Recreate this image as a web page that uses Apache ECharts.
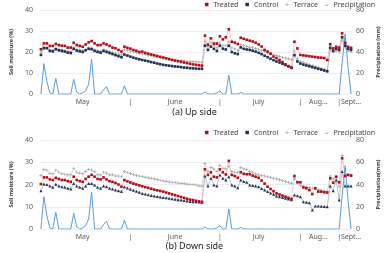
<!DOCTYPE html>
<html><head><meta charset="utf-8">
<script src="https://cdn.jsdelivr.net/npm/echarts@6/dist/echarts.min.js"></script>
<style>html,body{margin:0;padding:0;background:#fff}#c{width:389px;height:253px}</style>
</head><body><div id="c"></div>
<script>
// ---- data ----
const nPoints = 105;
const tickIndex  = [14, 30, 45, 60, 73, 87, 93, 100, 104];
const tickLabels = ['May', '|', 'June', '|', 'July', '|', 'Aug...', '|', 'Sept...'];
const categories = Array.from({length: nPoints}, (_, i) => String(i));

const precipitation = [
  0,29,12,1,0,15,0,0,0,0,
  0,14,2,0,1,3,9,33,0,0,
  0,4,7,0,0,0,0,0,8,0,
  0,0,0,0,0,0,0,0,0,0,
  0,0,0,0,0,0,0,0,0,0,
  0,0,0,0,0,2,0,0,0,1,
  3,0,0,18,0,0,0,1.5,0,0,
  0,0,0,0,0,0,0,0,0,0,
  0,0,0,0,0,0,0,0,0,0,
  0,0,0,0,0,0,0,0,0,0,
  0,30,57,25,0
];

const upTreated = [
  21.3,24.1,24.1,22.9,22.9,23.8,23.3,23.0,22.9,22.1,
  22.1,24.4,23.3,22.9,22.5,23.6,24.6,25.2,24.1,23.3,
  23.3,24.1,23.6,22.9,22.1,21.8,21.0,20.2,22.5,22.0,
  21.6,21.0,20.6,20.0,20.2,19.6,19.2,18.8,18.5,18.1,
  17.7,17.4,17.0,16.6,16.2,15.9,15.6,15.3,15.0,14.7,
  14.4,14.1,13.9,13.7,13.5,27.8,23.5,26.5,24.0,24.0,
  27.5,26.0,27.0,30.8,24.9,24.5,23.8,26.8,26.3,25.8,
  25.4,25.0,24.4,23.6,22.6,21.0,20.2,19.2,17.8,17.1,
  16.2,15.2,14.1,13.3,12.4,24.9,21.7,18.6,18.4,18.2,
  18.0,17.8,17.6,17.4,17.3,17.1,16.2,23.7,21.7,22.5,
  22.1,28.9,24.4,22.5,22.0
];
const upControl = [
  18.6,21.8,21.8,20.5,20.3,21.3,20.8,20.5,20.2,19.7,
  19.5,21.5,20.7,20.3,20.0,20.8,21.5,21.3,20.5,20.0,
  19.7,20.5,20.0,19.5,19.0,18.5,18.0,17.5,18.8,18.3,
  17.8,17.3,16.9,16.5,16.2,15.9,15.6,15.2,14.9,14.5,
  14.2,13.9,13.7,13.5,13.3,13.1,13.0,12.8,12.6,12.5,
  12.3,12.2,12.1,12.0,12.0,23.0,21.0,22.6,21.5,20.5,
  23.0,21.6,21.2,23.0,20.0,19.4,19.0,22.2,21.5,21.2,
  21.0,20.6,20.2,19.6,19.0,18.2,17.5,16.8,16.1,15.5,
  15.0,14.4,13.8,13.2,12.6,18.5,15.5,14.5,14.0,13.6,
  13.2,12.8,12.4,12.0,11.6,11.2,10.8,22.0,20.5,21.5,
  21.0,27.0,23.0,21.5,21.0
];
const upTerrace = [
  20.0,22.5,22.2,21.0,20.8,21.8,21.3,21.0,20.7,20.3,
  20.0,22.0,21.3,21.0,20.7,21.3,22.0,22.0,21.2,20.7,
  20.3,21.0,20.6,20.2,19.8,19.4,19.0,18.6,21.2,20.8,
  20.4,20.0,19.7,19.4,19.1,18.8,18.5,18.2,17.9,17.6,
  17.3,17.0,16.8,16.6,16.4,16.2,16.0,15.9,15.8,15.6,
  15.5,15.4,15.3,15.2,15.1,24.8,22.5,24.5,23.0,22.0,
  24.5,23.2,23.0,24.8,22.0,21.5,20.8,23.5,23.0,22.7,
  22.3,22.0,21.6,21.2,20.8,20.4,19.6,19.2,18.7,18.3,
  17.9,17.5,17.1,16.7,16.3,20.5,17.0,15.5,15.0,14.5,
  14.0,13.5,13.0,12.6,12.2,11.8,11.2,21.0,20.0,20.5,
  20.0,25.7,22.0,20.5,20.0
];
const downTreated = [
  20.2,23.2,23.2,22.3,22.0,23.0,22.5,22.0,22.0,21.5,
  21.2,23.5,22.0,21.5,21.2,22.5,23.5,24.3,23.5,22.5,
  22.3,23.2,22.3,21.5,21.2,20.7,20.0,19.0,22.0,21.4,
  20.9,20.4,20.0,19.6,19.2,18.8,18.5,18.1,17.7,17.4,
  17.1,16.8,16.4,16.0,15.6,15.2,14.8,14.4,14.0,13.6,
  13.2,13.0,12.7,12.4,12.2,26.8,24.3,25.5,23.5,23.2,
  26.8,25.5,24.5,30.6,24.3,23.8,23.0,25.5,24.8,24.6,
  24.6,24.0,23.5,23.0,21.8,20.4,19.0,18.0,17.0,16.0,
  15.5,15.0,14.5,14.0,13.5,23.8,21.0,21.0,18.7,18.3,
  17.5,15.7,18.3,16.8,16.8,16.5,16.4,22.8,20.8,23.5,
  21.0,31.8,23.8,24.3,24.0
];
const downControl = [
  17.2,20.2,20.0,19.3,18.8,20.1,19.3,19.0,18.8,18.3,
  18.0,20.5,19.3,18.8,18.3,19.3,20.5,20.5,19.8,18.8,
  18.3,19.3,19.0,18.3,18.0,17.5,17.2,16.8,19.0,18.4,
  17.9,17.4,17.0,16.5,16.0,15.7,15.4,15.1,14.8,14.6,
  14.4,14.2,14.0,13.8,13.6,13.4,13.2,13.0,12.8,12.6,
  12.4,12.3,12.2,12.1,12.0,23.8,19.3,22.8,19.8,19.3,
  24.3,22.8,22.0,23.5,19.8,19.3,18.5,22.0,21.4,21.0,
  19.8,19.6,19.3,19.0,18.2,17.5,16.8,16.2,15.6,14.8,
  14.5,14.2,13.8,13.5,13.2,15.3,15.0,14.5,12.3,12.0,
  11.8,8.5,10.3,10.3,10.2,10.1,10.0,19.3,17.2,22.0,
  13.0,25.8,19.3,19.3,19.3
];
const downTerrace = [
  24.0,26.8,26.5,25.0,24.8,26.5,25.6,24.8,24.6,24.3,
  24.3,27.3,25.6,25.1,24.8,25.9,26.8,26.5,25.9,24.3,
  24.3,25.6,25.1,24.3,24.3,23.8,23.8,23.5,25.8,25.3,
  24.9,24.5,24.1,23.8,23.5,23.3,23.0,22.8,22.5,22.2,
  21.9,21.6,21.4,21.2,21.0,20.8,20.6,20.5,20.4,20.2,
  20.1,20.0,19.8,19.4,19.3,29.5,25.8,27.7,26.9,25.9,
  28.5,27.3,27.0,28.0,25.8,25.5,25.3,27.6,27.0,26.8,
  25.8,25.3,24.8,24.3,24.0,23.8,23.5,23.2,22.8,22.5,
  22.1,21.7,21.3,20.9,20.5,22.5,21.0,19.5,19.2,18.9,
  18.6,18.3,18.0,17.7,17.4,17.1,16.8,23.8,22.5,23.5,
  19.0,33.0,24.3,24.3,24.3
];

// ---- chart ----
const FONT = 'Noto Sans';
const plusPath = 'path://M2,0H3V2H5V3H3V5H2V3H0V2H2Z';
const linePath = 'path://M0,0L0,0M0,4H10V6H0Z';
const RED = '#b40a14', NAVY = '#1f2f50', GRAY = '#a0a0a0', BLUE = '#5b9bd5';

function xAxis(gi, margin) {
  return {
    type: 'category', gridIndex: gi, data: categories, boundaryGap: false,
    axisLine: {show: false}, axisTick: {show: false}, splitLine: {show: false},
    axisLabel: {
      interval: 0, margin: margin, fontSize: 7, color: '#595959', fontFamily: FONT,
      formatter: (v, i) => { const k = tickIndex.indexOf(i); return k >= 0 ? tickLabels[k] : ''; }
    }
  };
}
function yLeft(gi) {
  return {
    type: 'value', gridIndex: gi, min: 0, max: 40, interval: 10, position: 'left',
    name: 'Soil moisture (%)', nameLocation: 'middle', nameGap: 17, nameRotate: 90,
    nameTextStyle: {fontSize: 5.5, color: '#333', fontFamily: FONT, fontWeight: 'bold'},
    axisLine: {show: false}, axisTick: {show: false},
    axisLabel: {fontSize: 7, color: '#595959', margin: 8, fontFamily: FONT},
    splitLine: {lineStyle: {color: '#e8e8e8', width: 0.8}}
  };
}
function yRight(gi, name) {
  return {
    type: 'value', gridIndex: gi, min: 0, max: 80, interval: 20, position: 'right',
    name: name, nameLocation: 'middle', nameGap: 17, nameRotate: 90,
    nameTextStyle: {fontSize: 5.5, color: '#333', fontFamily: FONT, fontWeight: 'bold'},
    axisLine: {show: false}, axisTick: {show: false},
    axisLabel: {fontSize: 7, color: '#595959', margin: 5, fontFamily: FONT},
    splitLine: {show: false}
  };
}
function soil(name, data, gi, symbol, size, color, lineColor) {
  return {
    name: name, type: 'line', xAxisIndex: gi, yAxisIndex: gi * 2, data: data,
    symbol: symbol, symbolSize: size, showAllSymbol: true,
    itemStyle: {color: color},
    lineStyle: {color: lineColor, width: 0.7},
    animation: false
  };
}
function rain(gi) {
  return {
    name: 'Precipitation', type: 'line', xAxisIndex: gi, yAxisIndex: gi * 2 + 1,
    data: precipitation, symbol: 'none', itemStyle: {color: BLUE},
    lineStyle: {color: BLUE, width: 1}, animation: false
  };
}
function legend(top) {
  return {
    top: top, right: 14, itemWidth: 3.5, itemHeight: 3.5, itemGap: 7, padding: 0,
    textStyle: {fontSize: 7, color: '#404040', fontFamily: FONT},
    data: [
      {name: 'Treated', icon: 'rect'},
      {name: 'Control', icon: 'rect'},
      {name: 'Terrace', icon: plusPath},
      {name: 'Precipitation', icon: linePath}
    ]
  };
}

const chart = echarts.init(document.getElementById('c'), null, {renderer: 'canvas'});
chart.setOption({
  animation: false,
  backgroundColor: '#fff',
  title: [
    {text: '(a) Up side', left: 'center', top: 108, padding: 0,
     textStyle: {fontSize: 9, fontWeight: 'normal', color: '#222', fontFamily: FONT}},
    {text: '(b) Down side', left: 'center', top: 242, padding: 0,
     textStyle: {fontSize: 9, fontWeight: 'normal', color: '#222', fontFamily: FONT}}
  ],
  legend: [legend(1), legend(129)],
  grid: [
    {left: 24, right: 22, top: 10, height: 84},
    {left: 24, right: 22, top: 140, height: 89}
  ],
  xAxis: [xAxis(0, 4), xAxis(1, 4)],
  yAxis: [yLeft(0), yRight(0, 'Precipitation (mm)'), yLeft(1), yRight(1, 'Precipitation(mm)')],
  series: [
    soil('Terrace', upTerrace, 0, plusPath, 3.2, GRAY, '#d3d3d3'),
    soil('Control', upControl, 0, 'rect', 2.6, NAVY, '#9aa8c2'),
    soil('Treated', upTreated, 0, 'rect', 2.6, RED, '#f2b3b3'),
    rain(0),
    soil('Terrace', downTerrace, 1, plusPath, 3.2, GRAY, '#d3d3d3'),
    soil('Control', downControl, 1, 'triangle', 3, NAVY, '#9aa8c2'),
    soil('Treated', downTreated, 1, 'rect', 2.6, RED, '#f2b3b3'),
    rain(1)
  ]
});
</script>
</body></html>
